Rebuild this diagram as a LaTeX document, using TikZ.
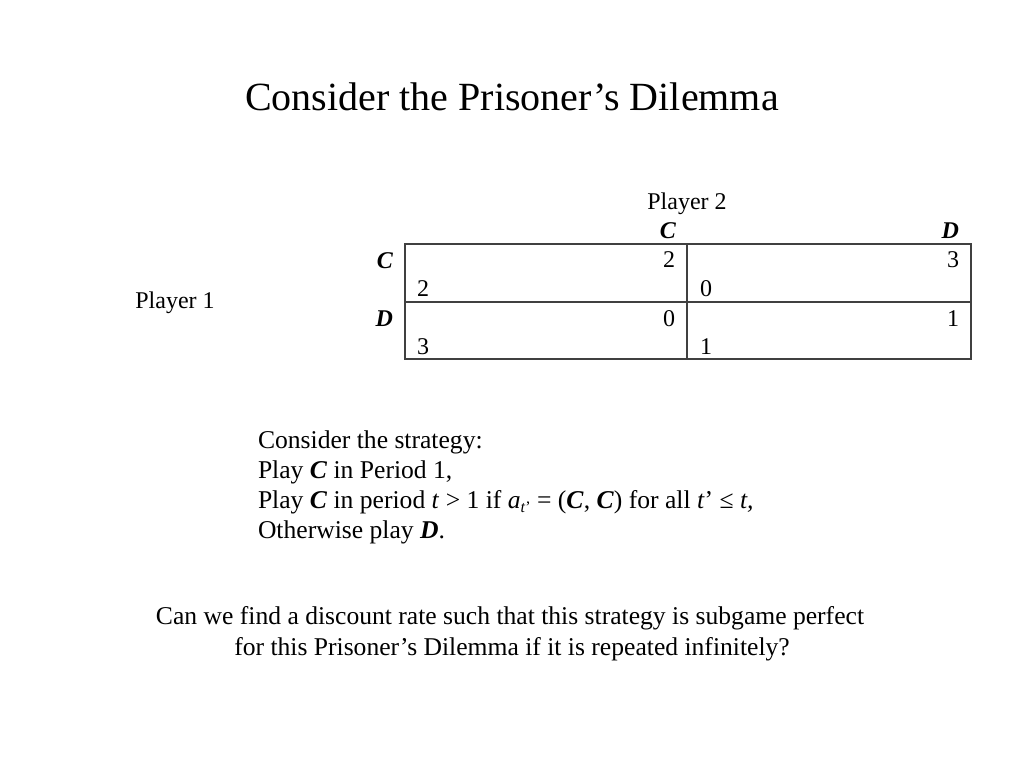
\documentclass[tikz,border=0pt]{standalone}
\usepackage{fontspec}
\setmainfont{Liberation Serif}
\newcommand{\bic}[1]{\textbf{\textit{#1}}}
\begin{document}
\begin{tikzpicture}[x=1pt,y=-1pt,
  txt/.style={inner sep=0pt,outer sep=0pt,font=\fontsize{24}{29}\selectfont},
  big/.style={inner sep=0pt,outer sep=0pt,font=\fontsize{25.6}{30}\selectfont},
  ttl/.style={inner sep=0pt,outer sep=0pt,font=\fontsize{40}{48}\selectfont},
  grid/.style={draw=black!75,line width=1.2pt}]
\useasboundingbox[fill=white] (0,0) rectangle (1024,768);
% title
\node[ttl,anchor=base] (title) at (512,110) {Consider the Prisoner’s Dilemma};
% table frame
\coordinate (tl) at (405,244);
\coordinate (br) at (971,359);
\coordinate (mt) at (687,244);
\coordinate (mb) at (687,359);
\coordinate (ml) at (405,302);
\coordinate (mr) at (971,302);
\draw[grid] (tl) rectangle (br);
\draw[grid] (mt) -- (mb);
\draw[grid] (ml) -- (mr);
% labels
\node[txt,anchor=base] (p2) at (687,209) {Player 2};
\node[txt,anchor=base] (p1) at (175,308) {Player 1};
\node[txt,anchor=base east] (colC) at (676,238) {\bic{C}};
\node[txt,anchor=base east] (colD) at (959,238) {\bic{D}};
\node[txt,anchor=base east] (rowC) at (393,268) {\bic{C}};
\node[txt,anchor=base east] (rowD) at (393,326) {\bic{D}};
% payoffs
\node[txt,anchor=base east] (ccb) at (675,267) {2};
\node[txt,anchor=base west] (cca) at (417,296) {2};
\node[txt,anchor=base east] (cdb) at (959,267) {3};
\node[txt,anchor=base west] (cda) at (700,296) {0};
\node[txt,anchor=base east] (dcb) at (675,326) {0};
\node[txt,anchor=base west] (dca) at (417,354) {3};
\node[txt,anchor=base east] (ddb) at (959,326) {1};
\node[txt,anchor=base west] (dda) at (700,354) {1};
% strategy
\node[big,anchor=base west] (s1) at (258,448) {Consider the strategy:};
\node[big,anchor=base west] (s2) at (258,478) {Play \bic{C} in Period 1,};
\node[big,anchor=base west] (s3) at (258,508) {Play \bic{C} in period \textit{t} > 1 if \textit{a}\raisebox{-0.35ex}{\fontsize{16}{17}\selectfont\textit{t}’} = (\bic{C}, \bic{C}) for all \textit{t}’ ≤ \textit{t,}};
\node[big,anchor=base west] (s4) at (258,538) {Otherwise play \bic{D}.};
% question
\node[big,anchor=base] (q1) at (510,624) {Can we find a discount rate such that this strategy is subgame perfect};
\node[big,anchor=base] (q2) at (512,655) {for this Prisoner’s Dilemma if it is repeated infinitely?};
\end{tikzpicture}
\end{document}
